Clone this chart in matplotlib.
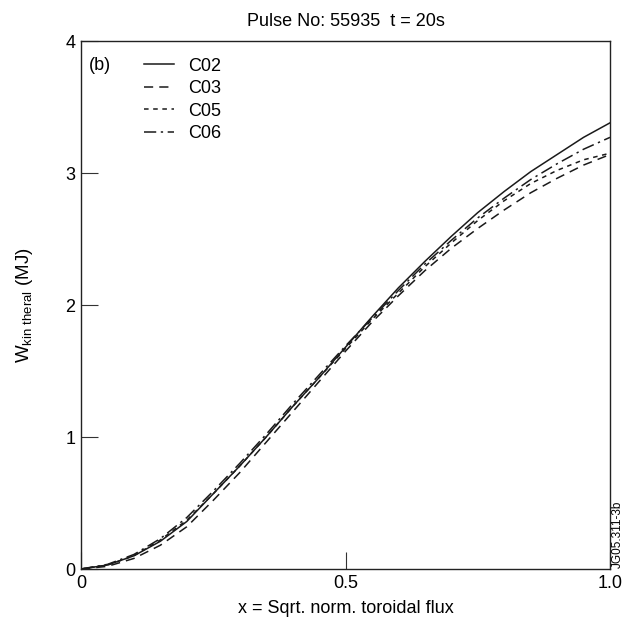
import matplotlib
matplotlib.use("Agg")
import matplotlib.pyplot as plt
import numpy as np

plt.rcParams['font.family'] = ['Liberation Sans', 'DejaVu Sans']

# radial coordinate
x = [0.0, 0.05, 0.1, 0.15, 0.2, 0.25, 0.3, 0.35, 0.4, 0.45, 0.5,
     0.55, 0.6, 0.65, 0.7, 0.75, 0.8, 0.85, 0.9, 0.95, 1.0]

# W_kin thermal (MJ) for each code
c02 = [0, 0.03, 0.10, 0.21, 0.36, 0.57, 0.78, 1.00, 1.23, 1.45, 1.68,
       1.91, 2.13, 2.33, 2.52, 2.70, 2.86, 3.01, 3.14, 3.27, 3.38]
c03 = [0, 0.02, 0.08, 0.18, 0.32, 0.52, 0.73, 0.96, 1.19, 1.42, 1.65,
       1.87, 2.07, 2.26, 2.43, 2.58, 2.72, 2.85, 2.96, 3.06, 3.14]
c05 = [0, 0.03, 0.10, 0.22, 0.37, 0.57, 0.78, 1.00, 1.23, 1.45, 1.67,
       1.89, 2.09, 2.29, 2.47, 2.64, 2.79, 2.92, 3.02, 3.10, 3.15]
c06 = [0, 0.035, 0.11, 0.23, 0.39, 0.59, 0.80, 1.02, 1.25, 1.47, 1.69,
       1.90, 2.11, 2.31, 2.49, 2.66, 2.81, 2.95, 3.07, 3.18, 3.27]

labels = ['C02', 'C03', 'C05', 'C06']
styles = ['-', (0, (6, 4)), (0, (3, 3)), (0, (8, 3, 1.5, 3))]

fig = plt.figure(figsize=(6.33, 6.19), dpi=100)
ax = fig.add_axes([81/633, 50/619, 529/633, 528/619])

for y, lab, ls in zip([c02, c03, c05, c06], labels, styles):
    ax.plot(x, y, color='#1a1a1a', lw=1.1, linestyle=ls, label=lab)

ax.set_xlim(0, 1)
ax.set_ylim(0, 4)
ax.set_xticks([0, 0.5, 1.0])
ax.set_xticklabels(['0', '0.5', '1.0'])
ax.set_yticks([0, 1, 2, 3, 4])
ax.tick_params(direction='in', length=12, width=0.8, labelsize=13, pad=4,
               top=False, right=False, color='#333333')
for s in ax.spines.values():
    s.set_linewidth(1.0)
    s.set_color('#222222')

ax.set_xlabel('x = Sqrt. norm. toroidal flux', fontsize=13, labelpad=6)
ax.set_ylabel(r'$\mathregular{W_{kin\ theral}}$ (MJ)', fontsize=13.5, labelpad=22)
ax.set_title('Pulse No: 55935  t = 20s', fontsize=13, pad=11)

ax.text(0.014, 0.953, '(b)', transform=ax.transAxes, fontsize=13, va='center')
ax.legend(loc='upper left', bbox_to_anchor=(0.105, 0.982), frameon=False,
          fontsize=13, handlelength=1.65, handletextpad=0.8, labelspacing=0.3,
          borderaxespad=0.0)

fig.text(618/633, 51/619, 'JG05.311-3b', rotation=90, fontsize=8.5,
         ha='center', va='bottom')

fig.savefig('out.png', dpi=100)
